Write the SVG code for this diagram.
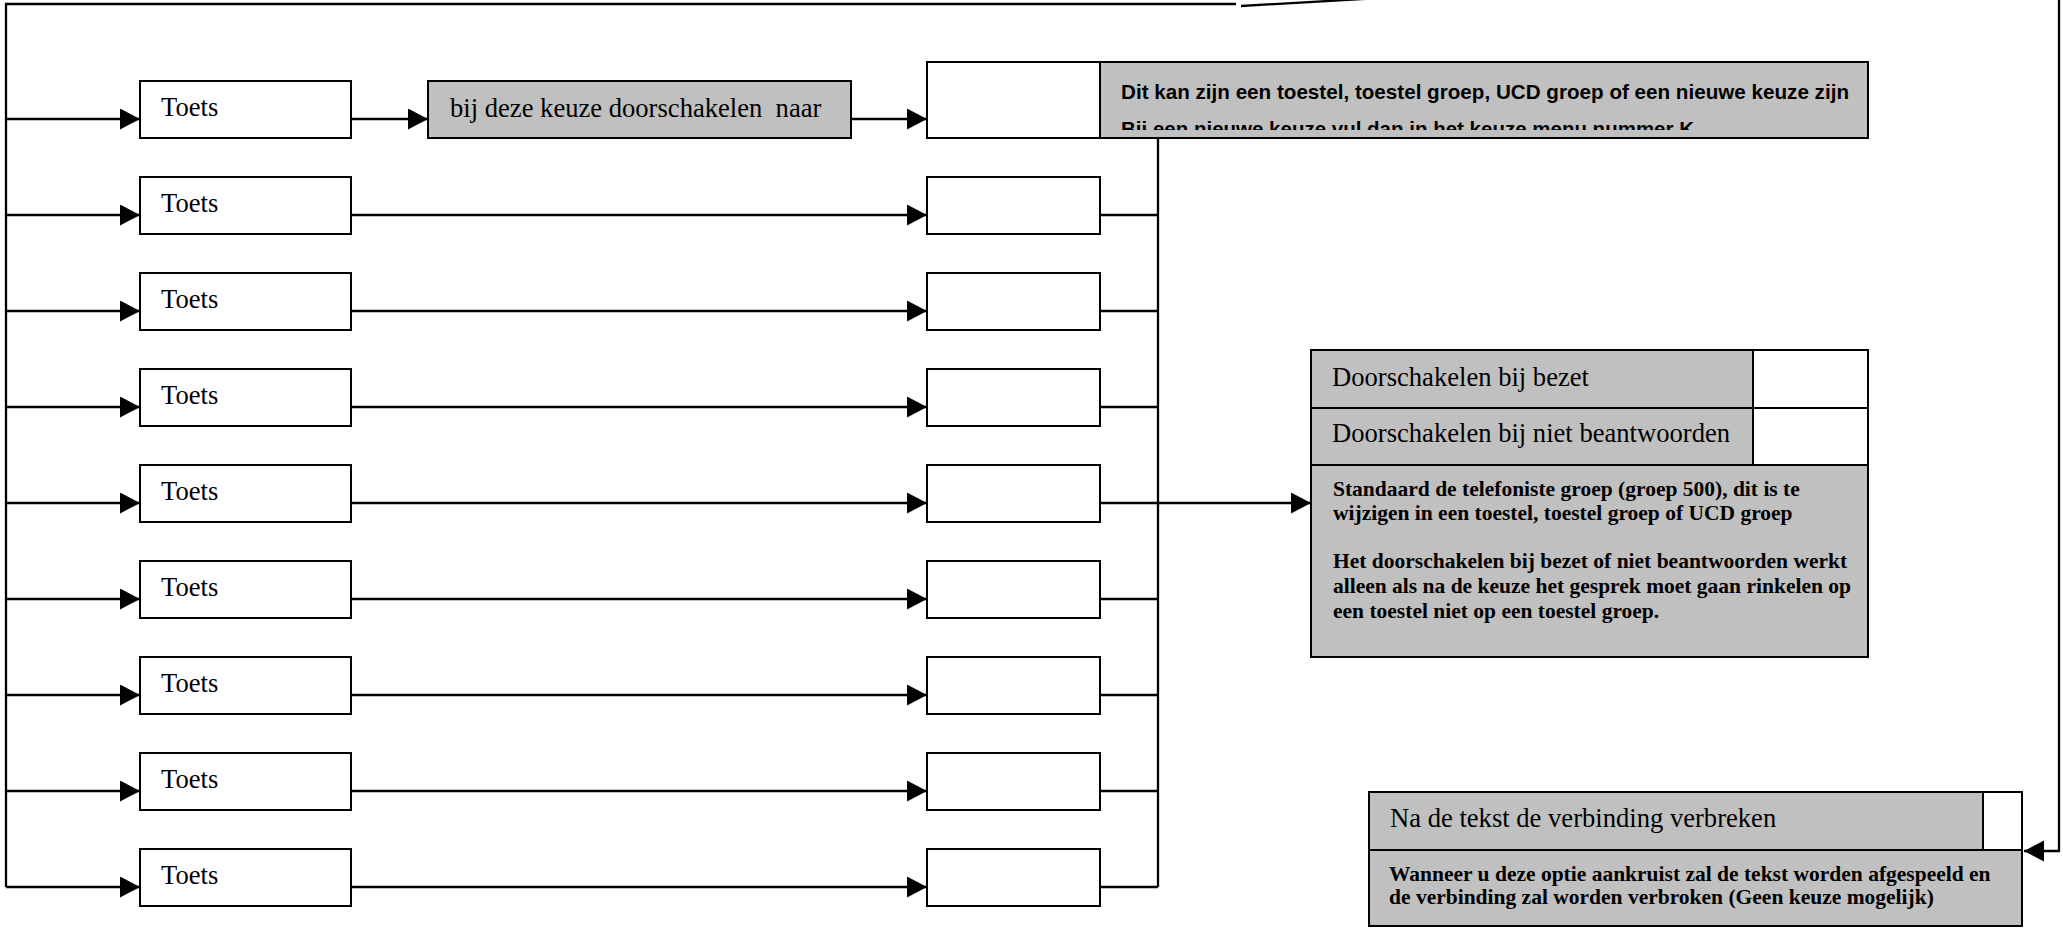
<svg xmlns="http://www.w3.org/2000/svg" width="2063" height="930" viewBox="0 0 2063 930">
<style>
.box{fill:#fff;stroke:#000;stroke-width:2}
.gray{fill:#c0c0c0;stroke:#000;stroke-width:2}
.t26{font-family:"Liberation Serif","Times New Roman",serif;font-size:26.6px;fill:#000}
.tb{font-family:"Liberation Serif","Times New Roman",serif;font-weight:bold;font-size:21.5px;fill:#000}
.ab{font-family:"Liberation Sans",Arial,sans-serif;font-weight:bold;font-size:20.5px;fill:#000}
.conn{fill:none;stroke:#000;stroke-width:2.3}
.arr{marker-end:url(#ah)}
</style>
<defs>
<marker id="ah" markerUnits="userSpaceOnUse" markerWidth="22" markerHeight="22" refX="20" refY="10.5" orient="auto">
<path d="M0,0 L20,10.5 L0,21 Z" fill="#000"/>
</marker>
<clipPath id="clip1"><rect x="1100" y="62" width="768" height="68"/></clipPath>
</defs>
<rect width="2063" height="930" fill="#fff"/>

<g id="connectors">
<path class="conn" d="M1236,4 H6 V887"/>
<path class="conn" d="M1241,6 L2059,-41 V851 H2024" style="marker-end:url(#ah)"/>
<line class="conn arr" x1="6" y1="119" x2="140" y2="119"/>
<line class="conn arr" x1="6" y1="215" x2="140" y2="215"/>
<line class="conn arr" x1="6" y1="311" x2="140" y2="311"/>
<line class="conn arr" x1="6" y1="407" x2="140" y2="407"/>
<line class="conn arr" x1="6" y1="503" x2="140" y2="503"/>
<line class="conn arr" x1="6" y1="599" x2="140" y2="599"/>
<line class="conn arr" x1="6" y1="695" x2="140" y2="695"/>
<line class="conn arr" x1="6" y1="791" x2="140" y2="791"/>
<line class="conn arr" x1="6" y1="887" x2="140" y2="887"/>
<line class="conn arr" x1="351" y1="119" x2="428" y2="119"/>
<line class="conn arr" x1="851" y1="119" x2="927" y2="119"/>
<line class="conn arr" x1="351" y1="215" x2="927" y2="215"/>
<line class="conn arr" x1="351" y1="311" x2="927" y2="311"/>
<line class="conn arr" x1="351" y1="407" x2="927" y2="407"/>
<line class="conn arr" x1="351" y1="503" x2="927" y2="503"/>
<line class="conn arr" x1="351" y1="599" x2="927" y2="599"/>
<line class="conn arr" x1="351" y1="695" x2="927" y2="695"/>
<line class="conn arr" x1="351" y1="791" x2="927" y2="791"/>
<line class="conn arr" x1="351" y1="887" x2="927" y2="887"/>
<path class="conn" d="M1100,215 H1158 M1100,311 H1158 M1100,407 H1158 M1100,503 H1158 M1100,599 H1158 M1100,695 H1158 M1100,791 H1158 M1100,887 H1158"/>
<path class="conn" d="M1158,138 V887"/>
<line class="conn arr" x1="1158" y1="503" x2="1311" y2="503"/>
</g>

<g id="toets1"><rect class="box" x="140" y="81" width="211" height="57"/><text class="t26" x="161" y="116">Toets</text></g>
<g id="toets2"><rect class="box" x="140" y="177" width="211" height="57"/><text class="t26" x="161" y="212">Toets</text></g>
<g id="toets3"><rect class="box" x="140" y="273" width="211" height="57"/><text class="t26" x="161" y="308">Toets</text></g>
<g id="toets4"><rect class="box" x="140" y="369" width="211" height="57"/><text class="t26" x="161" y="404">Toets</text></g>
<g id="toets5"><rect class="box" x="140" y="465" width="211" height="57"/><text class="t26" x="161" y="500">Toets</text></g>
<g id="toets6"><rect class="box" x="140" y="561" width="211" height="57"/><text class="t26" x="161" y="596">Toets</text></g>
<g id="toets7"><rect class="box" x="140" y="657" width="211" height="57"/><text class="t26" x="161" y="692">Toets</text></g>
<g id="toets8"><rect class="box" x="140" y="753" width="211" height="57"/><text class="t26" x="161" y="788">Toets</text></g>
<g id="toets9"><rect class="box" x="140" y="849" width="211" height="57"/><text class="t26" x="161" y="884">Toets</text></g>

<g id="keuze"><rect class="gray" x="428" y="81" width="423" height="57"/><text class="t26" x="450" y="117" xml:space="preserve">bij deze keuze doorschakelen  naar</text></g>

<g id="doel1">
<rect class="box" x="927" y="62" width="173" height="76"/>
<rect class="gray" x="1100" y="62" width="768" height="76"/>
<text class="ab" x="1121" y="99" textLength="728" lengthAdjust="spacingAndGlyphs">Dit kan zijn een toestel, toestel groep, UCD groep of een nieuwe keuze zijn</text>
<text class="ab" x="1121" y="136" clip-path="url(#clip1)">Bij een nieuwe keuze vul dan in het keuze menu nummer K</text>
</g>
<g id="doel2"><rect class="box" x="927" y="177" width="173" height="57"/></g>
<g id="doel3"><rect class="box" x="927" y="273" width="173" height="57"/></g>
<g id="doel4"><rect class="box" x="927" y="369" width="173" height="57"/></g>
<g id="doel5"><rect class="box" x="927" y="465" width="173" height="57"/></g>
<g id="doel6"><rect class="box" x="927" y="561" width="173" height="57"/></g>
<g id="doel7"><rect class="box" x="927" y="657" width="173" height="57"/></g>
<g id="doel8"><rect class="box" x="927" y="753" width="173" height="57"/></g>
<g id="doel9"><rect class="box" x="927" y="849" width="173" height="57"/></g>

<g id="doorschakelen">
<rect class="gray" x="1311" y="350" width="442" height="58"/>
<rect class="box" x="1753" y="350" width="115" height="58"/>
<rect class="gray" x="1311" y="408" width="442" height="57"/>
<rect class="box" x="1753" y="408" width="115" height="57"/>
<rect class="gray" x="1311" y="465" width="557" height="192"/>
<text class="t26" x="1332" y="386">Doorschakelen bij bezet</text>
<text class="t26" x="1332" y="442">Doorschakelen bij niet beantwoorden</text>
<text class="tb" x="1333" y="496">Standaard de telefoniste groep (groep 500), dit is te</text>
<text class="tb" x="1333" y="520">wijzigen in een toestel, toestel groep of UCD groep</text>
<text class="tb" x="1333" y="568">Het doorschakelen bij bezet of niet beantwoorden werkt</text>
<text class="tb" x="1333" y="593">alleen als na de keuze het gesprek moet gaan rinkelen op</text>
<text class="tb" x="1333" y="618">een toestel niet op een toestel groep.</text>
</g>

<g id="verbreken">
<rect class="gray" x="1369" y="792" width="614" height="58"/>
<rect class="box" x="1983" y="792" width="39" height="58"/>
<rect class="gray" x="1369" y="850" width="653" height="76"/>
<text class="t26" x="1390" y="827">Na de tekst de verbinding verbreken</text>
<text class="tb" x="1389" y="881">Wanneer u deze optie aankruist zal de tekst worden afgespeeld en</text>
<text class="tb" x="1389" y="904">de verbinding zal worden verbroken (Geen keuze mogelijk)</text>
</g>
</svg>
